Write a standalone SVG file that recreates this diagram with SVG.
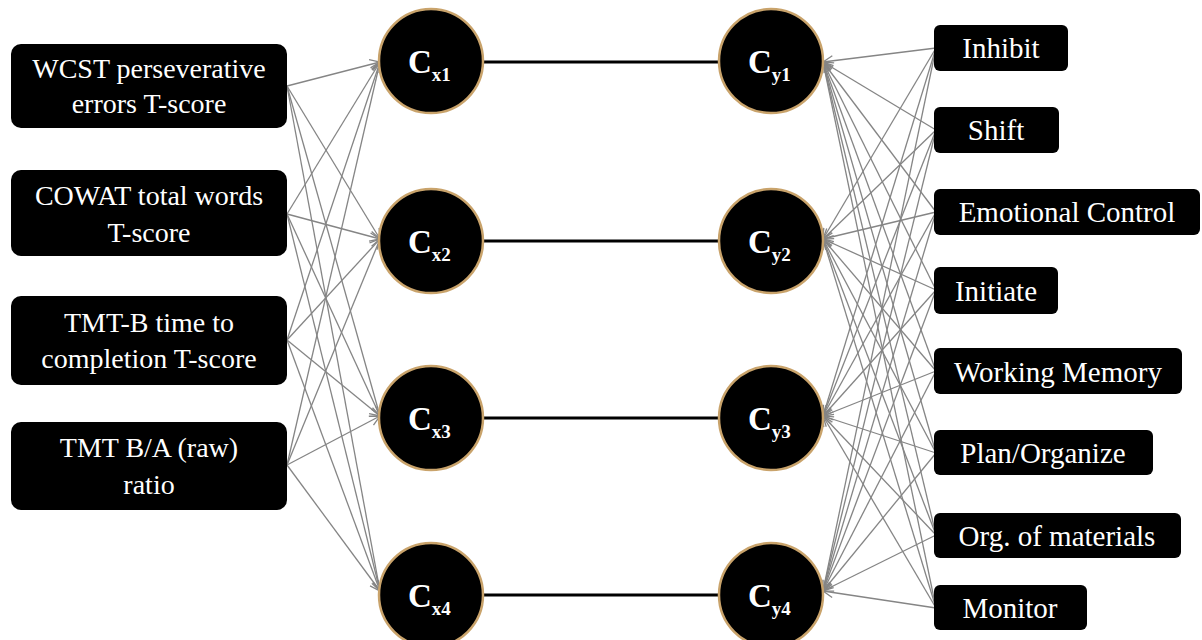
<svg xmlns="http://www.w3.org/2000/svg" width="1202" height="640" viewBox="0 0 1202 640" font-family="'Liberation Serif', 'Times New Roman', serif">
<defs>
<style>
.box{fill:#000;}
.t{font-size:28px;fill:#fff;text-anchor:middle;}
.r{font-size:29px;}
.circ{fill:#000;stroke:#c9a36b;stroke-width:2.5;}
.cl{font-size:33px;font-weight:bold;fill:#fff;}
.sub{font-size:19px;}
.c{stroke:#858585;stroke-width:1.3;fill:none;marker-end:url(#ah);}
.h{stroke:#000;stroke-width:3;}
</style>
<marker id="ah" viewBox="0 0 12 12" refX="11" refY="6" markerWidth="12" markerHeight="12" markerUnits="userSpaceOnUse" orient="auto">
<path d="M1,1 L11,6 L1,11" fill="none" stroke="#858585" stroke-width="1.3"/>
</marker>
</defs>
<rect width="1202" height="640" fill="#fff"/>
<g id="connectors">
<line class="h" x1="483" y1="62" x2="719" y2="62"/>
<line class="h" x1="483" y1="241" x2="719" y2="241"/>
<line class="h" x1="483" y1="418" x2="719" y2="418"/>
<line class="h" x1="483" y1="595" x2="719" y2="595"/>
<g id="left-edges">
<line class="c" x1="287" y1="86" x2="380" y2="62"/>
<line class="c" x1="287" y1="86" x2="380" y2="239"/>
<line class="c" x1="287" y1="86" x2="380" y2="416"/>
<line class="c" x1="287" y1="86" x2="380" y2="591"/>
<line class="c" x1="287" y1="214" x2="380" y2="62"/>
<line class="c" x1="287" y1="214" x2="380" y2="239"/>
<line class="c" x1="287" y1="214" x2="380" y2="416"/>
<line class="c" x1="287" y1="214" x2="380" y2="591"/>
<line class="c" x1="287" y1="340" x2="380" y2="62"/>
<line class="c" x1="287" y1="340" x2="380" y2="239"/>
<line class="c" x1="287" y1="340" x2="380" y2="416"/>
<line class="c" x1="287" y1="340" x2="380" y2="591"/>
<line class="c" x1="287" y1="465" x2="380" y2="62"/>
<line class="c" x1="287" y1="465" x2="380" y2="239"/>
<line class="c" x1="287" y1="465" x2="380" y2="416"/>
<line class="c" x1="287" y1="465" x2="380" y2="591"/>
</g>
<g id="right-edges">
<line class="c" x1="936" y1="48" x2="823" y2="62"/>
<line class="c" x1="936" y1="48" x2="823" y2="239"/>
<line class="c" x1="936" y1="48" x2="823" y2="416"/>
<line class="c" x1="936" y1="48" x2="823" y2="591"/>
<line class="c" x1="936" y1="130" x2="823" y2="62"/>
<line class="c" x1="936" y1="130" x2="823" y2="239"/>
<line class="c" x1="936" y1="130" x2="823" y2="416"/>
<line class="c" x1="936" y1="130" x2="823" y2="591"/>
<line class="c" x1="936" y1="212" x2="823" y2="62"/>
<line class="c" x1="936" y1="212" x2="823" y2="239"/>
<line class="c" x1="936" y1="212" x2="823" y2="416"/>
<line class="c" x1="936" y1="212" x2="823" y2="591"/>
<line class="c" x1="936" y1="290" x2="823" y2="62"/>
<line class="c" x1="936" y1="290" x2="823" y2="239"/>
<line class="c" x1="936" y1="290" x2="823" y2="416"/>
<line class="c" x1="936" y1="290" x2="823" y2="591"/>
<line class="c" x1="936" y1="371" x2="823" y2="62"/>
<line class="c" x1="936" y1="371" x2="823" y2="239"/>
<line class="c" x1="936" y1="371" x2="823" y2="416"/>
<line class="c" x1="936" y1="371" x2="823" y2="591"/>
<line class="c" x1="936" y1="453" x2="823" y2="62"/>
<line class="c" x1="936" y1="453" x2="823" y2="239"/>
<line class="c" x1="936" y1="453" x2="823" y2="416"/>
<line class="c" x1="936" y1="453" x2="823" y2="591"/>
<line class="c" x1="936" y1="535" x2="823" y2="62"/>
<line class="c" x1="936" y1="535" x2="823" y2="239"/>
<line class="c" x1="936" y1="535" x2="823" y2="416"/>
<line class="c" x1="936" y1="535" x2="823" y2="591"/>
<line class="c" x1="936" y1="608" x2="823" y2="62"/>
<line class="c" x1="936" y1="608" x2="823" y2="239"/>
<line class="c" x1="936" y1="608" x2="823" y2="416"/>
<line class="c" x1="936" y1="608" x2="823" y2="591"/>
</g>
</g>
<g id="wcst"><rect class="box" x="11" y="44" width="276" height="84" rx="10"/><text class="t" x="149" y="78">WCST perseverative</text><text class="t" x="149" y="113">errors T-score</text></g>
<g id="cowat"><rect class="box" x="11" y="170" width="276" height="86" rx="10"/><text class="t" x="149" y="205">COWAT total words</text><text class="t" x="149" y="242">T-score</text></g>
<g id="tmtb"><rect class="box" x="11" y="296" width="276" height="89" rx="10"/><text class="t" x="149" y="332">TMT-B time to</text><text class="t" x="149" y="368">completion T-score</text></g>
<g id="tmtba"><rect class="box" x="11" y="422" width="276" height="88" rx="10"/><text class="t" x="149" y="457">TMT B/A (raw)</text><text class="t" x="149" y="494">ratio</text></g>
<g id="cx1"><circle class="circ" cx="431" cy="61" r="52"/><text class="cl" x="408" y="73">C<tspan class="sub" dy="8">x1</tspan></text></g>
<g id="cx2"><circle class="circ" cx="431" cy="241" r="52"/><text class="cl" x="408" y="253">C<tspan class="sub" dy="8">x2</tspan></text></g>
<g id="cx3"><circle class="circ" cx="431" cy="418" r="52"/><text class="cl" x="408" y="430">C<tspan class="sub" dy="8">x3</tspan></text></g>
<g id="cx4"><circle class="circ" cx="431" cy="595" r="52"/><text class="cl" x="408" y="607">C<tspan class="sub" dy="8">x4</tspan></text></g>
<g id="cy1"><circle class="circ" cx="771" cy="61" r="52"/><text class="cl" x="748" y="73">C<tspan class="sub" dy="8">y1</tspan></text></g>
<g id="cy2"><circle class="circ" cx="771" cy="241" r="52"/><text class="cl" x="748" y="253">C<tspan class="sub" dy="8">y2</tspan></text></g>
<g id="cy3"><circle class="circ" cx="771" cy="418" r="52"/><text class="cl" x="748" y="430">C<tspan class="sub" dy="8">y3</tspan></text></g>
<g id="cy4"><circle class="circ" cx="771" cy="595" r="52"/><text class="cl" x="748" y="607">C<tspan class="sub" dy="8">y4</tspan></text></g>
<g id="inhibit"><rect class="box" x="934" y="25" width="134" height="46" rx="6"/><text class="t r" x="1001" y="58">Inhibit</text></g>
<g id="shift"><rect class="box" x="934" y="107" width="125" height="46" rx="6"/><text class="t r" x="996" y="140">Shift</text></g>
<g id="emo"><rect class="box" x="934" y="189" width="266" height="46" rx="6"/><text class="t r" x="1067" y="222">Emotional Control</text></g>
<g id="initiate"><rect class="box" x="934" y="267" width="124" height="47" rx="6"/><text class="t r" x="996" y="301">Initiate</text></g>
<g id="wm"><rect class="box" x="934" y="348" width="248" height="46" rx="6"/><text class="t r" x="1058" y="382">Working Memory</text></g>
<g id="plan"><rect class="box" x="934" y="430" width="219" height="45" rx="6"/><text class="t r" x="1043" y="463">Plan/Organize</text></g>
<g id="org"><rect class="box" x="934" y="513" width="247" height="45" rx="6"/><text class="t r" x="1057" y="546">Org. of materials</text></g>
<g id="monitor"><rect class="box" x="934" y="585" width="153" height="45" rx="6"/><text class="t r" x="1010" y="618">Monitor</text></g>
</svg>
